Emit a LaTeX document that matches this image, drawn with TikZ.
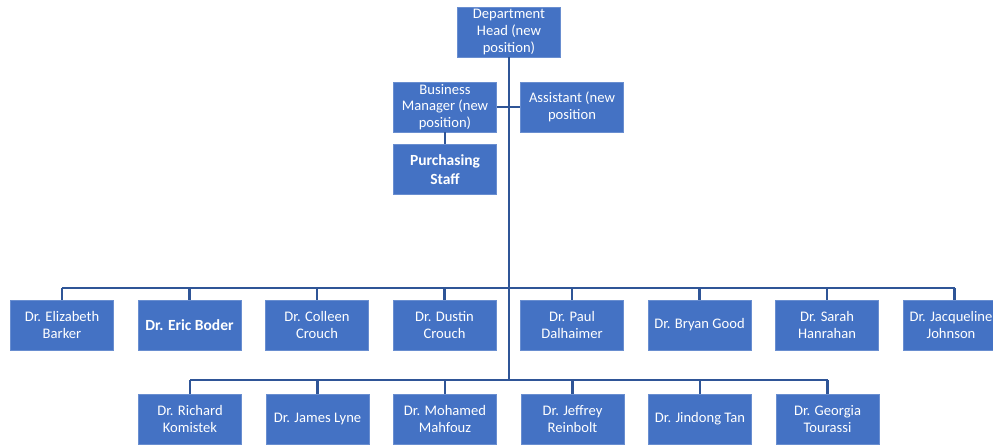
\documentclass[tikz,border=0pt]{standalone}
\usepackage{fontspec}
\setmainfont{Carlito}
\usepackage{xcolor}
\usetikzlibrary{positioning}
\definecolor{boxblue}{HTML}{4472C4}
\definecolor{lineblue}{HTML}{2F5597}

\begin{document}
\begin{tikzpicture}[x=1pt, y=-1pt, node distance=24pt, auto]
      \tikzset{block/.style={rectangle, draw=boxblue!80!white, line width=0.5pt, fill=boxblue, text=white, minimum width=103pt, minimum height=50pt, inner sep=1pt, align=center, font=\fontsize{14.6}{16.8}\selectfont}}
      \tikzset{link/.style={draw=lineblue, line width=2.3pt}}
      \useasboundingbox (0,0) rectangle (993,445);
      \clip (0,0) rectangle (993,445);
      % top of the chart
      \node[block] (head) at (509,32) {Department\\Head (new\\position)};
      \node[block] (manager) at (445,107) {Business\\Manager (new\\position)};
      \node[block] (assistant) at (572,107) {Assistant (new\\position};
      \node[block, font=\fontsize{15.5}{18.5}\selectfont\bfseries, below=12pt of manager] (purchasing) {Purchasing\\Staff};
      % first row of faculty
      \node[block] (barker) at (62,325) {Dr. Elizabeth\\Barker};
      \node[block, font=\fontsize{15.5}{18}\selectfont\bfseries, right=of barker] (boder) {Dr. Eric Boder};
      \node[block, right=of boder] (ccrouch) {Dr. Colleen\\Crouch};
      \node[block, right=of ccrouch] (dcrouch) {Dr. Dustin\\Crouch};
      \node[block, right=of dcrouch] (dalhaimer) {Dr. Paul\\Dalhaimer};
      \node[block, right=of dalhaimer] (good) {Dr. Bryan Good};
      \node[block, right=of good] (hanrahan) {Dr. Sarah\\Hanrahan};
      \node[block, right=of hanrahan] (johnson) {Dr. Jacqueline\hspace*{7pt}\\Johnson\hspace*{7pt}};
      % second row of faculty
      \node[block] (komistek) at (190,419) {Dr. Richard\\Komistek};
      \node[block, right=of komistek] (lyne) {Dr. James Lyne};
      \node[block, right=of lyne] (mahfouz) {Dr. Mohamed\\Mahfouz};
      \node[block, right=of mahfouz] (reinbolt) {Dr. Jeffrey\\Reinbolt};
      \node[block, right=of reinbolt] (tan) {Dr. Jindong Tan};
      \node[block, right=of tan] (tourassi) {Dr. Georgia\\Tourassi};
      \coordinate (bus1) at (509,288);
      \coordinate (bus2) at (509,380);
      % connectors
      \draw[link, line width=2.8pt] (head.south) -- (bus2);
      \draw[link] (manager.east) -- (assistant.west);
      \draw[link] (manager.south) -- (purchasing.north);
      \draw[link] (barker.north |- bus1) -- (johnson.north |- bus1);
      \foreach \n in {barker,boder,ccrouch,dcrouch,dalhaimer,good,hanrahan,johnson}
        \draw[link] (\n.north |- bus1) -- (\n.north);
      \draw[link] (komistek.north |- bus2) -- (tourassi.north |- bus2);
      \foreach \n in {komistek,lyne,mahfouz,reinbolt,tan,tourassi}
        \draw[link] (\n.north |- bus2) -- (\n.north);
    \end{tikzpicture}
\end{document}
